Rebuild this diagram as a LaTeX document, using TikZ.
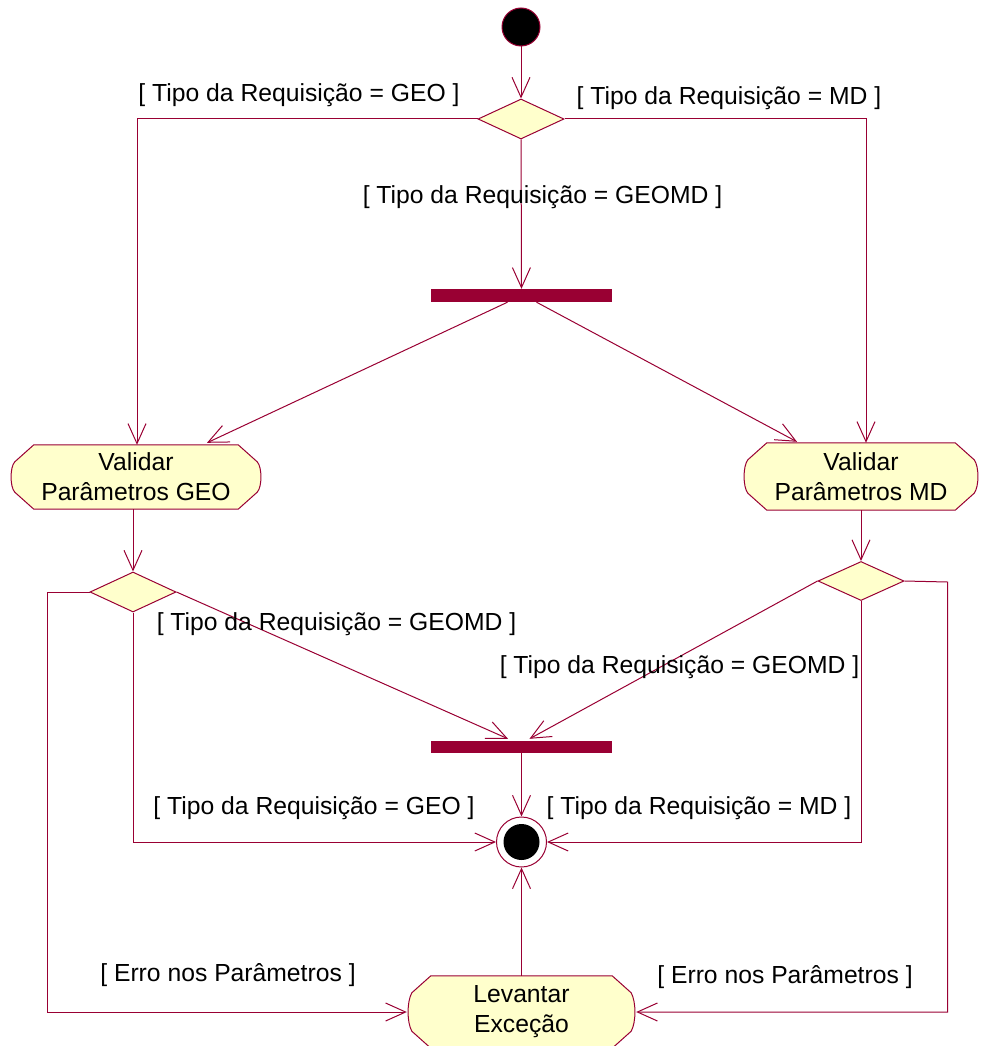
\documentclass[tikz,border=0pt]{standalone}
\usepackage{fontspec}
\setmainfont{Liberation Sans}
\usetikzlibrary{arrows.meta,shapes.geometric,calc,backgrounds}
\definecolor{umlline}{HTML}{990033}
\definecolor{umlfill}{HTML}{FFFFCC}

\begin{document}
\begin{tikzpicture}[x=1pt,y=-1pt,
  flow/.style={draw=umlline, line width=1pt},
  arr/.style={flow, -{Straight Barb[length=20pt,width=18pt]}},
  guard/.style={font=\fontsize{24.7}{30}\selectfont, inner sep=0pt},
  actbox/.style={font=\fontsize{24.7}{30}\selectfont, align=center, inner sep=0pt},
  actshape/.style={draw=umlline, fill=umlfill, line width=1pt},
  choice/.style={diamond, draw=umlline, fill=umlfill, line width=1pt,
    minimum width=86pt, minimum height=40pt, inner sep=0pt},
  syncbar/.style={rectangle, fill=umlline, minimum width=181pt,
    minimum height=13pt, inner sep=0pt},
]
\useasboundingbox (0,0) rectangle (980,1046);

% initial and final states
\node[circle, draw=umlline, fill=black, line width=1pt, minimum size=38pt, inner sep=0pt] (start) at (521,27) {};
\node[circle, draw=umlline, fill=white, line width=1pt, minimum size=50pt, inner sep=0pt] (final) at (521.5,842) {};
\fill[black] (final.center) circle (18);

% decisions
\node[choice] (dtop) at (521,119) {};
\node[choice] (dgeo) at (133,592) {};
\node[choice, minimum height=39pt] (dmd) at (861,581) {};

% synchronisation bars
\node[syncbar] (fork1) at (521.5,295.5) {};
\node[syncbar, minimum height=12pt] (join1) at (521.5,747) {};

% activities
\node[actbox, minimum width=252pt, minimum height=64pt] (vgeo) at (136,477) {Validar\\Parâmetros GEO};
\node[actbox, minimum width=236pt, minimum height=67pt] (vmd) at (861,476.5) {Validar\\Parâmetros MD};
\node[actbox, minimum width=229pt, minimum height=72pt] (exc) at (521.5,1012) {Levantar\\Exceção};

\begin{scope}[on background layer]
  \foreach \n in {vgeo,vmd,exc} {
    \filldraw[actshape]
      ($(\n.north west)+(24,0)$) -- ($(\n.north east)+(-24,0)$)
      -- ($(\n.north east)+(-5,17)$)
      .. controls ($(\n.east)+(0,-10)$) and ($(\n.east)+(0,10)$) ..
      ($(\n.south east)+(-5,-17)$)
      -- ($(\n.south east)+(-24,0)$) -- ($(\n.south west)+(24,0)$)
      -- ($(\n.south west)+(5,-17)$)
      .. controls ($(\n.west)+(0,10)$) and ($(\n.west)+(0,-10)$) ..
      ($(\n.north west)+(5,17)$) -- cycle;
  }
\end{scope}

% rail corners
\coordinate (lrail) at (47,592);
\coordinate (rrail) at (947.5,582);

% transitions
\draw[arr] (start) -- (dtop);
\draw[arr] (dtop.west) -| ($(vgeo.north)+(1,0)$);
\draw[arr] (dtop.east) -| ($(vmd.north)+(5,0)$);
\draw[arr] (dtop) -- (fork1);
\draw[arr] ($(fork1.south)+(-14,0)$) -- ($(vgeo.north)+(71,-2)$);
\draw[arr] ($(fork1.south)+(15,0)$) -- ($(vmd.north)+(-64,-1)$);

\draw[arr] (vgeo.south -| dgeo.north) -- (dgeo.north);
\draw[arr] (vmd.south -| dmd.north) -- (dmd.north);

\draw[arr] (dgeo.west) -- (lrail) |- (exc.west);
\draw[arr] (dgeo.south) |- (final.west);
\draw[arr] (dgeo.east) -- ($(join1.north)+(-13.5,-2)$);

\draw[arr] (dmd.west) -- ($(join1.north)+(8,-2)$);
\draw[arr] (dmd.south) |- (final.east);
\draw[arr] (dmd.east) -- (rrail) |- (exc.east);

\draw[arr] (join1) -- (final);
\draw[arr] (exc) -- (final);

% guards
\node[guard] (g1) at (299,95) {[ Tipo da Requisição = GEO ]};
\node[guard] (g2) at (729,98) {[ Tipo da Requisição = MD ]};
\node[guard] (g3) at (542.5,197) {[ Tipo da Requisição = GEOMD ]};
\node[guard] (g4) at (336.5,624) {[ Tipo da Requisição = GEOMD ]};
\node[guard] (g5) at (679.5,667) {[ Tipo da Requisição = GEOMD ]};
\node[guard] (g6) at (314,808) {[ Tipo da Requisição = GEO ]};
\node[guard] (g7) at (699,808) {[ Tipo da Requisição = MD ]};
\node[guard] (g8) at (228,975) {[ Erro nos Parâmetros ]};
\node[guard] (g9) at (785,977) {[ Erro nos Parâmetros ]};
\end{tikzpicture}
\end{document}
